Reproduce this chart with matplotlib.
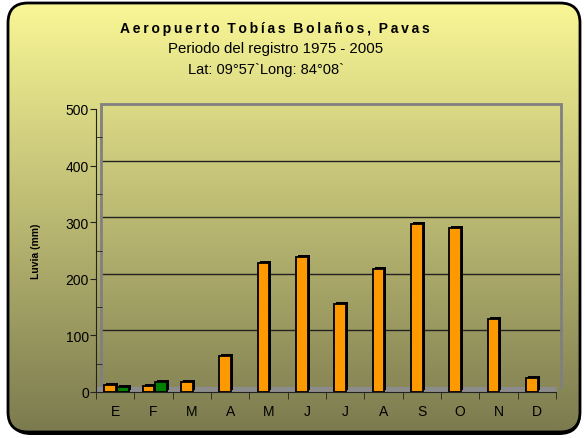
import numpy as np
import matplotlib
matplotlib.use('Agg')
import matplotlib.pyplot as plt
from matplotlib.patches import FancyBboxPatch
from matplotlib.transforms import offset_copy

plt.rcParams['font.family'] = ['Liberation Sans', 'DejaVu Sans']

# datos
meses = ['E', 'F', 'M', 'A', 'M', 'J', 'J', 'A', 'S', 'O', 'N', 'D']
lluvia = [12, 10, 18, 63, 228, 238, 155, 217, 297, 290, 129, 24]
serie2 = [8, 18, 0, 0, 0, 0, 0, 0, 0, 0, 0, 0]
yticks = [0, 100, 200, 300, 400, 500]

W, H = 585, 439
fig = plt.figure(figsize=(W / 100, H / 100), dpi=100)

# fondo con degradado y borde redondeado
bg = fig.add_axes([0, 0, 1, 1])
bg.set_xlim(0, W)
bg.set_ylim(0, H)
bg.axis('off')
shadow = FancyBboxPatch((9, 3), W - 13, H - 8, boxstyle='round,pad=0,rounding_size=22',
                        fc='black', ec='black', lw=0)
bg.add_patch(shadow)
box = FancyBboxPatch((8, 6), W - 13, H - 10, boxstyle='round,pad=0,rounding_size=20',
                     fc='none', ec='black', lw=2)
bg.add_patch(box)
top = np.array([250, 248, 150]) / 255
bot = np.array([122, 121, 78]) / 255
t = np.linspace(0, 1, 256)[:, None]
grad = (top * (1 - t) + bot * t)[:, None, :]
im = bg.imshow(grad, extent=[0, W, 0, H], aspect='auto', origin='upper', zorder=1)
im.set_clip_path(box)
box.set_zorder(2)
shadow.set_zorder(0)

# títulos (espaciado entre letras como en el original)
titulo = 'Aeropuerto Tobías Bolaños, Pavas'
titulo_esp = '\u2009'.join(titulo).replace('\u2009 \u2009', '  ')
fig.text(0.470, 1 - 29 / H, titulo_esp, ha='center', va='center', fontsize=10,
         fontweight='bold', family=['Liberation Sans', 'DejaVu Sans'])
fig.text(0.471, 1 - 49 / H, 'Periodo del registro 1975 - 2005', ha='center', va='center', fontsize=10.8)
fig.text(0.455, 1 - 70 / H, 'Lat: 09°57`Long: 84°08`', ha='center', va='center', fontsize=10.5)

# ejes principales (plano frontal)
x0, x1, yb, yt = 96, 556, 393, 110
ax = fig.add_axes([x0 / W, 1 - yb / H, (x1 - x0) / W, (yb - yt) / H])
ax.set_facecolor('none')
ax.set_xlim(-0.5, 11.5)
ax.set_ylim(0, 500)
x = np.arange(len(meses))

back = offset_copy(ax.transData, fig=fig, x=5, y=5, units='dots')
# pared del fondo
for v in yticks[1:-1]:
    ax.plot([-0.5, 11.5], [v, v], color='#222222', lw=1, transform=back, zorder=1, clip_on=False)
ax.plot([-0.5, -0.5, 11.5, 11.5], [0, 500, 500, 0], color='#808080', lw=2,
        transform=back, zorder=1, solid_joinstyle='miter', clip_on=False)
# piso
ax.fill_between([-0.5, 11.5], 0, 8.8, color='#8c8c8c', zorder=1)
ax.plot([11.5, 11.5], [0, 8.8], color='#808080', lw=1, zorder=1)

# barras con efecto 3D
w = 0.3
depth = offset_copy(ax.transData, fig=fig, x=2, y=2, units='dots')
xo = x - 0.13
xg = x + 0.2
ax.bar(xo, lluvia, w, color='black', transform=depth, zorder=2)
ax.bar(xo, lluvia, w, color='#ff9900', edgecolor='black', lw=1.3, zorder=3)
sel = np.array(serie2) > 0
ax.bar(xg[sel], np.array(serie2)[sel], w, color='black', transform=depth, zorder=2)
ax.bar(xg[sel], np.array(serie2)[sel], w, color='#008000', edgecolor='black', lw=1.3, zorder=3)

for s in ['top', 'right']:
    ax.spines[s].set_visible(False)
ax.spines['left'].set_color('#222222')
ax.spines['bottom'].set_color('#222222')
ax.set_yticks(yticks)
ax.set_yticklabels([str(v) for v in yticks], fontsize=10)
ax.set_yticks(np.arange(50, 500, 100), minor=True)
ax.tick_params(axis='y', which='major', direction='out', length=4, pad=1, color='#222222')
ax.tick_params(axis='y', which='minor', direction='in', length=4, color='#222222')
ax.set_xticks(x)
ax.set_xticklabels(meses, fontsize=10)
ax.set_xticks(np.arange(-0.5, 12, 1), minor=True)
ax.tick_params(axis='x', which='major', length=0, pad=9)
ax.tick_params(axis='x', which='minor', direction='out', length=5, color='#222222')
ax.set_ylabel('Luvia (mm)', fontsize=7.5, fontweight='bold', labelpad=18)

plt.savefig('out.png', dpi=100)
